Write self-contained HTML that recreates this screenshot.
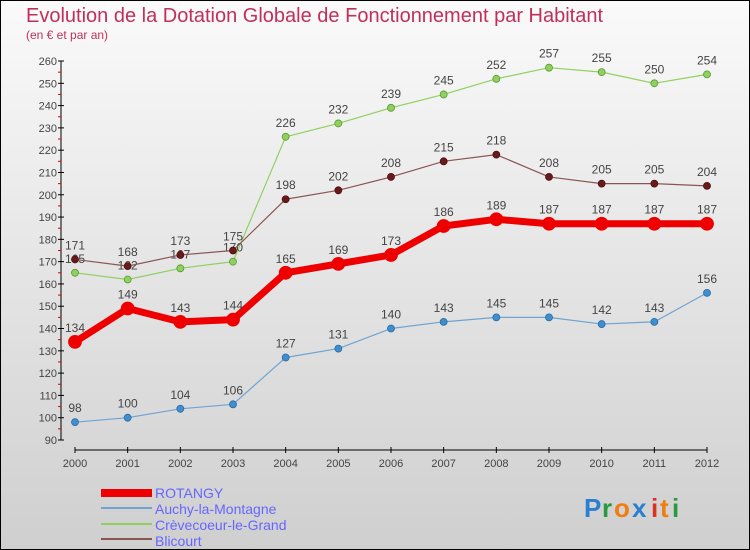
<!DOCTYPE html>
<html><head><meta charset="utf-8"><style>
body{margin:0;width:750px;height:550px;overflow:hidden;font-family:"Liberation Sans",sans-serif}
svg{display:block}
</style></head><body>
<svg id="c" width="750" height="550">
<defs><linearGradient id="bg" x1="0" y1="0" x2="0" y2="1"><stop offset="0" stop-color="#fafafa"/><stop offset="1" stop-color="#cfcfcf"/></linearGradient></defs>
<rect x="0.5" y="0.5" width="749" height="549" fill="url(#bg)" stroke="#000"/>
<text x="26" y="22" font-size="20" fill="#c0305a">Evolution de la Dotation Globale de Fonctionnement par Habitant</text>
<text x="26" y="39" font-size="12" fill="#c0305a">(en € et par an)</text>
<g id="axes"></g><g id="series"></g>
<g>
<rect x="101" y="489" width="51" height="8" fill="#e00"/>
<text x="155" y="498" font-size="14" fill="#6666ff">ROTANGY</text>
<rect x="101" y="507" width="51" height="2" fill="#6fa3d0"/>
<text x="155" y="514" font-size="14" fill="#6666ff">Auchy-la-Montagne</text>
<rect x="101" y="523" width="51" height="2" fill="#8fd060"/>
<text x="155" y="530" font-size="14" fill="#6666ff">Crèvecoeur-le-Grand</text>
<rect x="101" y="538" width="51" height="2" fill="#8a5555"/>
<text x="155" y="546" font-size="14" fill="#6666ff">Blicourt</text>
</g>
<g font-size="26" font-weight="bold">
<text x="584" y="517" fill="#2a7fd0">P</text><text x="602" y="517" fill="#2a9a40">r</text><text x="614" y="517" fill="#f07d10">o</text><text x="632" y="517" fill="#2a7fd0">x</text><text x="651" y="517" fill="#e03020">i</text><text x="660" y="517" fill="#f07d10">t</text><text x="672" y="517" fill="#2a9a40">i</text>
</g>
</svg>
<script>
const years=[2000,2001,2002,2003,2004,2005,2006,2007,2008,2009,2010,2011,2012];
const rotangy=[134,149,143,144,165,169,173,186,189,187,187,187,187];
const auchy=[98,100,104,106,127,131,140,143,145,145,142,143,156];
const crevecoeur=[165,162,167,170,226,232,239,245,252,257,255,250,254];
const blicourt=[171,168,173,175,198,202,208,215,218,208,205,205,204];
const yTicks=[90,100,110,120,130,140,150,160,170,180,190,200,210,220,230,240,250,260];
const NS="http://www.w3.org/2000/svg";
const X=i=>75+i*(707-75)/12;
const Y=v=>440-(v-90)*(440-61)/170;
function mk(t,a,p){const e=document.createElementNS(NS,t);for(const k in a)e.setAttribute(k,a[k]);p.appendChild(e);return e;}
const ax=document.getElementById('axes');
const yl=mk('line',{x1:61,y1:61,x2:61,y2:440,stroke:'#000','stroke-width':1},ax);


const xl=mk('line',{x1:75,y1:450,x2:707,y2:450,stroke:'#000','stroke-width':1},ax);


yTicks.forEach(v=>{
 mk('line',{x1:58,y1:Y(v),x2:64,y2:Y(v),stroke:'#000'},ax);
 if(v<260)mk('line',{x1:58,y1:Y(v+5),x2:61,y2:Y(v+5),stroke:'#d00'},ax);
 const t=mk('text',{x:57,y:Y(v)+4,'font-size':11,fill:'#444','text-anchor':'end'},ax);
 t.textContent=v;
 
 
});
years.forEach((y,i)=>{
 mk('line',{x1:X(i),y1:447,x2:X(i),y2:453,stroke:'#000'},ax);
 const t=mk('text',{x:X(i),y:467,'font-size':11,fill:'#444','text-anchor':'middle'},ax);
 t.textContent=y;
 
 
});
const sg=document.getElementById('series');
function series(d,name,col,dot,w,r,stroke){
 const g=mk('g',{},sg);
 
 
 mk('polyline',{points:d.map((v,i)=>X(i)+','+Y(v)).join(' '),fill:'none',stroke:col,'stroke-width':w,'stroke-linejoin':'round'},g);
 d.forEach((v,i)=>{
  const c=mk('circle',{cx:X(i),cy:Y(v),r:r,fill:dot,stroke:stroke,'stroke-width':0.8},g);
  
  
  const t=mk('text',{x:X(i),y:Y(v)-10,'font-size':12,fill:'#444','text-anchor':'middle'},g);
  t.textContent=v;
  
  
 });
}
series(crevecoeur,'crevecoeur','#8fd060','#8fd060',1.2,3.5,'#5a9a30');
series(blicourt,'blicourt','#8a5555','#6a1a1a',1.2,3.5,'#4a1010');
series(auchy,'auchy','#6fa3d0','#3f8fd0',1.2,3.5,'#2a6aa0');
series(rotangy,'rotangy','#ee0000','#ee0000',7,6.5,'#ee0000');
</script>
</body></html>
